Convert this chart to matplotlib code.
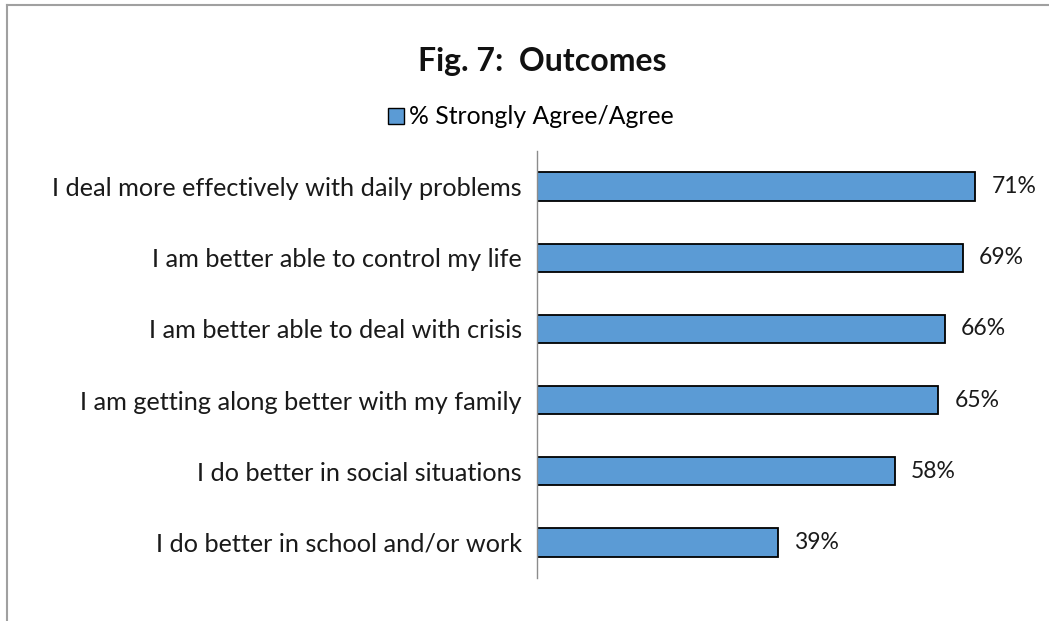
import matplotlib
matplotlib.use("Agg")
import matplotlib.pyplot as plt
from matplotlib.lines import Line2D
from matplotlib.patches import Patch

plt.rcParams["font.family"] = ["Lato", "DejaVu Sans"]

# survey results, top to bottom
labels = [
    "I deal more effectively with daily problems",
    "I am better able to control my life",
    "I am better able to deal with crisis",
    "I am getting along better with my family",
    "I do better in social situations",
    "I do better in school and/or work",
]
pct_agree = [71, 69, 66, 65, 58, 39]
series_name = "% Strongly Agree/Agree"
bar_color = "#5B9BD5"

W, H = 1049, 621
fig = plt.figure(figsize=(W / 100, H / 100), dpi=100)

# axes box in pixel terms: left edge at the category axis line
ax = fig.add_axes([537 / W, (H - 578) / H, 494 / W, 427 / H])

y = list(range(len(labels)))[::-1]
bars = ax.barh(y, pct_agree, height=0.4, color=bar_color,
               edgecolor="black", linewidth=1.3)
ax.set_xlim(0, 80)
ax.set_ylim(-0.5, len(labels) - 0.5)
ax.set_yticks(y)
ax.set_yticklabels(labels, fontsize=18.2, color="#1a1a1a")
ax.tick_params(axis="y", length=0, pad=11)
ax.set_xticks([])
for side in ["top", "right", "bottom"]:
    ax.spines[side].set_visible(False)
ax.spines["left"].set_color("#8c8c8c")
ax.spines["left"].set_linewidth(1)

for b, v in zip(bars, pct_agree):
    ax.annotate(f"{v}%", (b.get_width(), b.get_y() + b.get_height() / 2),
                xytext=(11.5, 0), textcoords="offset points",
                ha="left", va="center", fontsize=16.5, color="#1a1a1a")

fig.text(542 / W, 1 - 61 / H, "Fig. 7:  Outcomes", ha="center", va="center",
         fontsize=23, fontweight="bold", color="#111111")

handle = Patch(facecolor=bar_color, edgecolor="black", linewidth=1)
fig.legend([handle], [series_name], loc="center", frameon=False,
           bbox_to_anchor=(531 / W, 1 - 117 / H), fontsize=17.8,
           handlelength=0.65, handleheight=0.65, handletextpad=0.2)

# chart frame (left and top edges)
fig.add_artist(Line2D([7 / W, 7 / W], [0, 1 - 5 / H], color="#a0a0a0", lw=1.5))
fig.add_artist(Line2D([7 / W, 1], [1 - 5 / H, 1 - 5 / H], color="#a0a0a0", lw=1.5))

fig.savefig("out.png", dpi=100)
